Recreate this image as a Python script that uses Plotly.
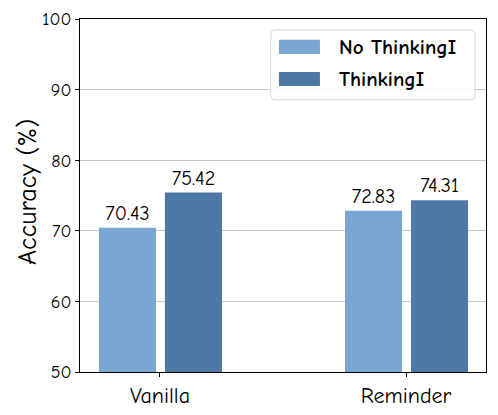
import plotly.graph_objects as go

categories = ["Vanilla", "Reminder"]
no_thinking = [70.43, 72.83]
thinking = [75.42, 74.31]
series_names = ["No ThinkingI", "ThinkingI"]
y_ticks = [50, 60, 70, 80, 90, 100]
y_title = "Accuracy (%)"

FONT = "Comic Sans MS, Comic Neue, Noto Sans, DejaVu Sans"
colors = ["#7ba6d4", "#4e79a7"]

fig = go.Figure()
for name, vals, col, off in [(series_names[0], no_thinking, colors[0], -0.248),
                              (series_names[1], thinking, colors[1], 0.020)]:
    fig.add_trace(go.Bar(
        x=categories, y=vals, name=name,
        marker=dict(color=col, line=dict(width=0)),
        width=0.232, offset=off,
        text=[f"{v:.2f}" for v in vals], textposition="outside",
        textfont=dict(family=FONT, size=20, color="black"),
        cliponaxis=False, showlegend=False,
    ))

# legend drawn as a framed box with wide swatches (plot-area paper coords)
PW, PH = 406.0, 353.0
x0, x1, y0, y1 = 0.470, 0.973, 0.771, 0.969
rx, ry = 4 / PW, 4 / PH
box = (f"M{x0+rx},{y0} L{x1-rx},{y0} Q{x1},{y0} {x1},{y0+ry} L{x1},{y1-ry} Q{x1},{y1} {x1-rx},{y1} "
       f"L{x0+rx},{y1} Q{x0},{y1} {x0},{y1-ry} L{x0},{y0+ry} Q{x0},{y0} {x0+rx},{y0} Z")
fig.add_shape(type="path", path=box, xref="paper", yref="paper",
              line=dict(color="#d8d8d8", width=1), fillcolor="rgba(255,255,255,0.85)", layer="above")
sw_y = [(0.901, 0.941), (0.810, 0.850)]
for i, name in enumerate(series_names):
    fig.add_shape(type="rect", xref="paper", yref="paper", x0=0.490, x1=0.591,
                  y0=sw_y[i][0], y1=sw_y[i][1], fillcolor=colors[i], line=dict(width=0), layer="above")
    fig.add_annotation(xref="paper", yref="paper", x=0.633, y=(sw_y[i][0] + sw_y[i][1]) / 2,
                       xanchor="left", yanchor="middle", text=f"<b>{name}</b>", showarrow=False,
                       font=dict(family=FONT, size=21, color="black"))

# y-axis title
fig.add_annotation(xref="paper", yref="paper", x=-0.128, y=0.51, textangle=-90,
                   xanchor="center", yanchor="middle", text=y_title, showarrow=False,
                   font=dict(family=FONT, size=26, color="black"))

fig.update_layout(
    width=498, height=415,
    margin=dict(l=80, r=12, t=19, b=43, autoexpand=False),
    paper_bgcolor="white", plot_bgcolor="white",
    font=dict(family=FONT, color="black"),
    barmode="overlay",
    showlegend=False,
    xaxis=dict(
        type="category", range=[-0.325, 1.325], automargin=False,
        showline=True, linecolor="black", linewidth=1, mirror=True,
        ticks="outside", ticklen=4, tickcolor="black",
        tickfont=dict(family=FONT, size=22, color="black"),
        showgrid=False,
    ),
    yaxis=dict(
        range=[50, 100], tickvals=y_ticks, automargin=False,
        showline=True, linecolor="black", linewidth=1, mirror=True,
        ticks="outside", ticklen=4, tickcolor="black",
        tickfont=dict(family=FONT, size=18, color="black"),
        showgrid=True, gridcolor="#c8c8c8", gridwidth=1,
        zeroline=False,
    ),
)

fig.write_html("out.html", config={"displayModeBar": False},
               post_script="document.body.style.margin='0';document.body.style.padding='0';")
